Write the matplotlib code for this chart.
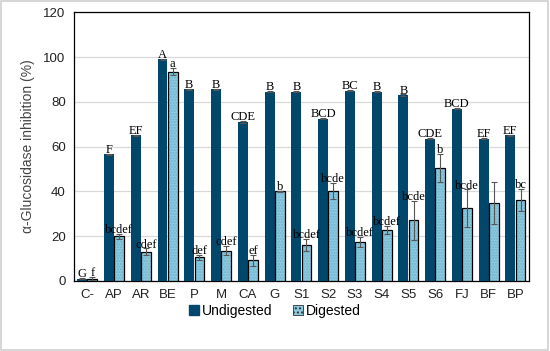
import numpy as np
import matplotlib
matplotlib.use("Agg")
import matplotlib.pyplot as plt
from matplotlib.patches import Patch, Rectangle

categories = ["C-", "AP", "AR", "BE", "P", "M", "CA", "G", "S1", "S2", "S3", "S4", "S5", "S6", "FJ", "BF", "BP"]
undigested = [1.0, 56.5, 65.0, 99.0, 85.5, 85.5, 71.0, 84.5, 84.5, 72.5, 85.0, 84.5, 83.0, 63.5, 77.0, 63.5, 65.0]
undigested_err = [0.3, 0.3, 0.3, 0.3, 0.3, 0.3, 0.3, 0.3, 0.3, 0.3, 0.3, 0.3, 0.3, 0.3, 0.3, 0.3, 0.3]
digested = [1.0, 19.8, 13.0, 93.5, 10.5, 13.5, 9.2, 40.0, 16.0, 40.0, 17.5, 22.8, 27.0, 50.5, 32.5, 34.8, 36.0]
digested_err = [0.8, 1.0, 1.5, 1.5, 1.0, 2.0, 2.5, 0.2, 2.7, 3.6, 2.2, 1.7, 8.6, 6.3, 8.4, 9.5, 5.0]
undig_letters = ["G", "F", "EF", "A", "B", "B", "CDE", "B", "B", "BCD", "BC", "B", "B", "CDE", "BCD", "EF", "EF"]
dig_letters = ["f", "bcdef", "cdef", "a", "def", "cdef", "ef", "b", "bcdef", "bcde", "bcdef", "bcdef", "bcde", "b", "bcde", "", "bc"]

dark = "#00476b"
light = "#8ccbe0"

fig = plt.figure(figsize=(5.5, 3.51), dpi=100)
fig.patches.append(Rectangle((0.002, 0.003), 0.994, 0.994, transform=fig.transFigure,
                             fill=False, edgecolor="#d0d0d0", linewidth=1.2))
ax = fig.add_axes([0.1345, 0.2, 0.827, 0.765])

x = np.arange(len(categories))
w = 0.37
off = 0.19
ax.bar(x - off, undigested, w, color=dark, zorder=3,
       yerr=undigested_err, error_kw=dict(ecolor="#555555", capsize=2, elinewidth=0.8, capthick=0.8))
ax.bar(x + off, digested, w, color=light, edgecolor="#6fb3cc", hatch="......", linewidth=0, zorder=3)
ax.bar(x + off, digested, w, fill=False, edgecolor="black", linewidth=0.9, zorder=4,
       yerr=digested_err, error_kw=dict(ecolor="#555555", capsize=2, elinewidth=0.8, capthick=0.8, zorder=5))

for i in range(len(categories)):
    ax.text(x[i] - off, undigested[i] + undigested_err[i] - 1.0, undig_letters[i],
            ha="center", va="bottom", family="Liberation Serif", fontsize=9, zorder=6)
    if dig_letters[i]:
        ax.text(x[i] + off, digested[i] + digested_err[i] - 1.0, dig_letters[i],
                ha="center", va="bottom", family="Liberation Serif", fontsize=9, zorder=6)

ax.set_xlim(-0.5, len(categories) - 0.5)
ax.set_ylim(0, 120)
ax.set_yticks(np.arange(0, 121, 20))
ax.set_xticks(x)
ax.set_xticklabels(categories, family="Liberation Sans", fontsize=9.5)
for lab in ax.get_yticklabels():
    lab.set_family("Liberation Sans")
    lab.set_fontsize(9.5)
ax.tick_params(axis="both", length=0, pad=6, colors="#222222")
ax.grid(axis="y", color="#d9d9d9", linewidth=0.9, zorder=0)
for s in ax.spines.values():
    s.set_color("black")
    s.set_linewidth(0.9)
ax.set_ylabel("α-Glucosidase inhibition (%)", family="Liberation Sans", fontsize=10, color="#444444", labelpad=6)

handles = [Patch(facecolor=dark, edgecolor=dark),
           Patch(facecolor=light, edgecolor="#333333", hatch="....", linewidth=0.6)]
fig.legend(handles, ["Undigested", "Digested"], loc="center", bbox_to_anchor=(0.5, 0.115), ncol=2,
           frameon=False, prop={"family": "Liberation Sans", "size": 10}, handlelength=0.7,
           handleheight=0.7, handletextpad=0.2, columnspacing=1.5)

fig.savefig("out.png", dpi=100)
